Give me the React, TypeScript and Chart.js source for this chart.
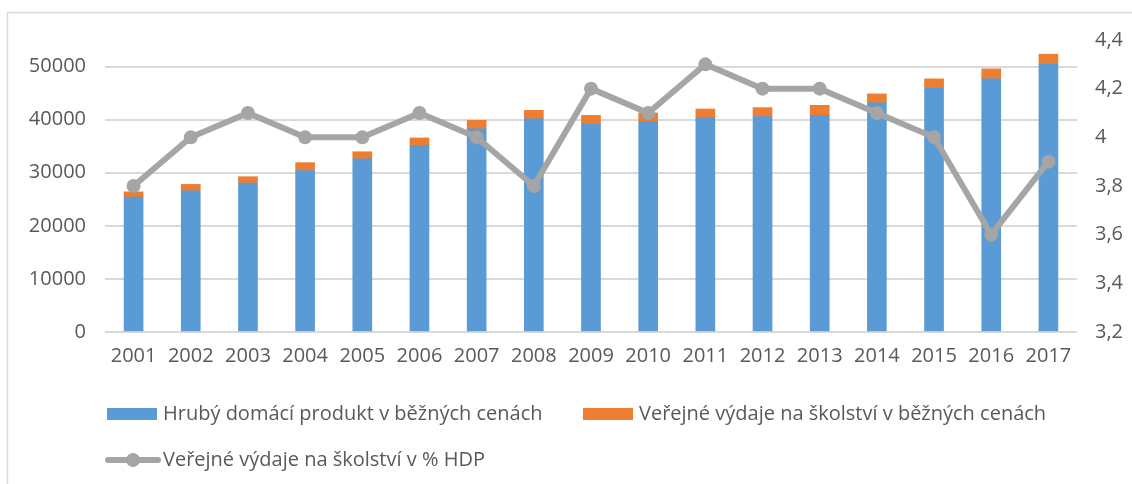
import React, { useEffect, useRef } from "react";
import { Chart, registerables } from "chart.js";

Chart.register(...registerables);

const years = ["2001","2002","2003","2004","2005","2006","2007","2008","2009","2010","2011","2012","2013","2014","2015","2016","2017"];
const gdp = [25400, 26600, 28050, 30400, 32600, 35150, 38250, 40130, 39120, 39680, 40380, 40570, 40800, 43150, 45960, 47680, 50440];
const eduSpend = [1000, 1200, 1200, 1500, 1350, 1400, 1630, 1620, 1680, 1580, 1620, 1690, 1900, 1700, 1720, 1880, 1890];
const eduPct = [3.8, 4.0, 4.1, 4.0, 4.0, 4.1, 4.0, 3.8, 4.2, 4.1, 4.3, 4.2, 4.2, 4.1, 4.0, 3.6, 3.9];
const leftTicks = [0, 10000, 20000, 30000, 40000, 50000];
const rightTicks = [3.2, 3.4, 3.6, 3.8, 4.0, 4.2, 4.4];
const seriesNames = [
  "Hrubý domácí produkt v běžných cenách",
  "Veřejné výdaje na školství v běžných cenách",
  "Veřejné výdaje na školství v % HDP",
];

const BLUE = "#5b9bd5";
const ORANGE = "#ed7d31";
const GRAY = "#a5a5a5";
const TEXT = "#595959";
const FONT = "'Open Sans', sans-serif";

const framePlugin = {
  id: "frame",
  beforeDraw(chart: any) {
    const ctx = chart.ctx;
    ctx.save();
    ctx.strokeStyle = "#d9d9d9";
    ctx.lineWidth = 1.5;
    ctx.beginPath();
    ctx.moveTo(7.5, 484);
    ctx.lineTo(7.5, 12.5);
    ctx.lineTo(1132, 12.5);
    ctx.stroke();
    ctx.restore();
  },
};

const legendPlugin = {
  id: "customLegend",
  afterDraw(chart: any) {
    const ctx = chart.ctx;
    ctx.save();
    ctx.font = `20px ${FONT}`;
    ctx.fillStyle = TEXT;
    ctx.textBaseline = "middle";
    ctx.textAlign = "left";
    const y1 = 414;
    ctx.fillStyle = BLUE;
    ctx.fillRect(107, y1 - 6, 50, 12);
    ctx.fillStyle = TEXT;
    ctx.fillText(seriesNames[0], 163, y1);
    ctx.fillStyle = ORANGE;
    ctx.fillRect(583, y1 - 6, 50, 12);
    ctx.fillStyle = TEXT;
    ctx.fillText(seriesNames[1], 639, y1);
    const y2 = 460;
    ctx.strokeStyle = GRAY;
    ctx.lineWidth = 6;
    ctx.lineCap = "round";
    ctx.beginPath();
    ctx.moveTo(108, y2);
    ctx.lineTo(158, y2);
    ctx.stroke();
    ctx.fillStyle = GRAY;
    ctx.beginPath();
    ctx.arc(133, y2, 7, 0, Math.PI * 2);
    ctx.fill();
    ctx.fillStyle = TEXT;
    ctx.fillText(seriesNames[2], 163, y2);
    ctx.restore();
  },
};

export default function App() {
  const ref = useRef<HTMLCanvasElement>(null);
  useEffect(() => {
    if (!ref.current) return;
    const chart = new Chart(ref.current, {
      type: "bar",
      data: {
        labels: years,
        datasets: [
          {
            type: "line",
            label: seriesNames[2],
            data: eduPct,
            yAxisID: "y1",
            borderColor: GRAY,
            backgroundColor: GRAY,
            borderWidth: 6,
            pointRadius: 7,
            pointBackgroundColor: GRAY,
            pointBorderWidth: 0,
            tension: 0,
            order: 0,
          } as any,
          {
            type: "bar",
            label: seriesNames[0],
            data: gdp,
            yAxisID: "y",
            backgroundColor: BLUE,
            barThickness: 19,
            order: 1,
          },
          {
            type: "bar",
            label: seriesNames[1],
            data: eduSpend,
            yAxisID: "y",
            backgroundColor: ORANGE,
            barThickness: 19,
            order: 1,
          },
        ],
      },
      options: {
        animation: false,
        responsive: false,
        maintainAspectRatio: false,
        layout: { padding: { left: 0, right: 0, top: 40, bottom: 112 } },
        plugins: {
          legend: { display: false },
          tooltip: { enabled: false },
          title: { display: false },
        },
        scales: {
          x: {
            stacked: true,
            grid: { display: false, drawTicks: false },
            border: { display: false },
            ticks: { color: TEXT, font: { family: FONT, size: 20 }, padding: 12, maxRotation: 0, autoSkip: false },
            afterFit(scale: any) { scale.height = 40; },
          },
          y: {
            stacked: true,
            position: "left",
            min: 0,
            max: 55000,
            grid: { color: "#d9d9d9", lineWidth: 2, drawTicks: false },
            border: { display: false },
            ticks: {
              color: TEXT,
              font: { family: FONT, size: 20 },
              padding: 19,
              callback: (v: any) => String(v),
            },
            afterBuildTicks(scale: any) { scale.ticks = leftTicks.map((v) => ({ value: v })); },
            afterFit(scale: any) { scale.width = 105; },
          },
          y1: {
            stacked: false,
            position: "right",
            min: 3.2,
            max: 4.4,
            grid: { display: false, drawTicks: false },
            border: { display: false },
            ticks: {
              color: TEXT,
              font: { family: FONT, size: 20 },
              padding: 18,
              callback: (v: any) => String(Math.round(Number(v) * 10) / 10).replace(".", ","),
            },
            afterBuildTicks(scale: any) { scale.ticks = rightTicks.map((v) => ({ value: v })); },
            afterFit(scale: any) { scale.width = 55; },
          },
        },
      },
      plugins: [framePlugin, legendPlugin],
    });
    return () => chart.destroy();
  }, []);
  return (
    <div style={{ position: "absolute", left: 0, top: 0, width: 1132, height: 484, background: "#fff" }}>
      <canvas ref={ref} width={1132} height={484} style={{ display: "block" }} />
    </div>
  );
}
